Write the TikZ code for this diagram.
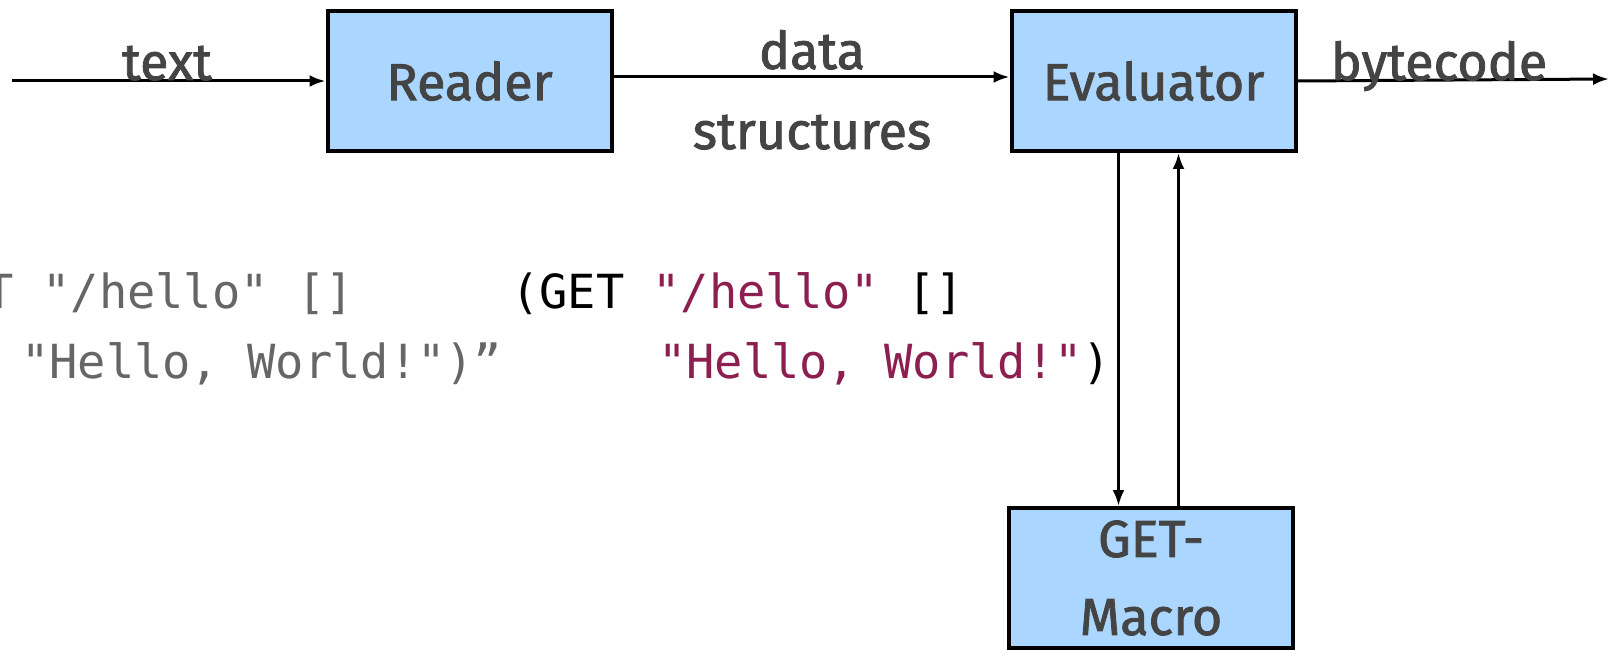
\documentclass[tikz,border=0pt]{standalone}
\usepackage{fontspec}
\setmainfont{Fira Sans}
\setmonofont{DejaVu Sans Mono}
\newfontfamily\labelfont{Fira Sans}[FakeBold=1.6]
\usetikzlibrary{arrows.meta}
\definecolor{boxblue}{RGB}{170,214,255}
\definecolor{labelgrey}{RGB}{68,68,68}
\definecolor{codegrey}{RGB}{102,102,102}
\definecolor{strred}{RGB}{140,30,80}

\begin{document}
\begin{tikzpicture}
  [x = 1pt, y = -1pt,
   stage/.style = {draw, line width = 4pt, fill = boxblue, minimum width = 284pt,
     minimum height = 140pt, inner sep = 0pt, text = labelgrey,
     font = \labelfont\fontsize{52}{78}\selectfont},
   lbl/.style = {text = labelgrey, font = \labelfont\fontsize{52}{78}\selectfont, inner sep = 0pt},
   code/.style = {font = \fontsize{47}{72}\ttfamily, inner sep = 0pt},
   arr/.style = {line width = 3pt, -{Latex[length=16pt, width=12pt]}}]
  \useasboundingbox (0,0) rectangle (1612,650);
  \clip (0,0) rectangle (1612,650);

    \node[stage] (reader) at (469.5,81) {Reader};
    \node[stage] (eval) at (1153.5,81) {Evaluator};
    \node[stage, align=center] (macro) at (1151,578) {GET-\\Macro};

    \coordinate (in) at (12,81);
    \coordinate (out) at (1609,79);
    \draw[arr] (in) -- (reader);
    \draw[arr] ([yshift=4pt]reader.east) -- ([yshift=4pt]eval.west);
    \draw[arr] (eval.east) -- (out);
    \draw[arr] ([xshift=-35pt]eval.south) -- ([xshift=-35pt]eval.south |- macro.north);
    \draw[arr] ([xshift=25pt]eval.south |- macro.north) -- ([xshift=25pt]eval.south);

    \node[lbl, anchor=base] (textlbl) at (167,80) {text};
    \node[lbl, anchor=base] (datalbl) at (812,69) {data};
    \node[lbl, anchor=base] (structlbl) at (812,149) {structures};
    \node[lbl, anchor=base] (bytelbl) at (1439,80) {bytecode};

    \node[code, text=codegrey, anchor=base east] (oldline1) at (354,308) {“(GET "/hello" []};
    \node[code, text=codegrey, anchor=base west] (oldline2) at (21,378) {"Hello, World!")”};
    \node[code, anchor=base west] (line1) at (511,308) {(GET \textcolor{strred}{"/hello"} []};
    \node[code, anchor=base west] (line2) at (658,378) {\textcolor{strred}{"Hello, World!"})};
  \end{tikzpicture}
\end{document}
